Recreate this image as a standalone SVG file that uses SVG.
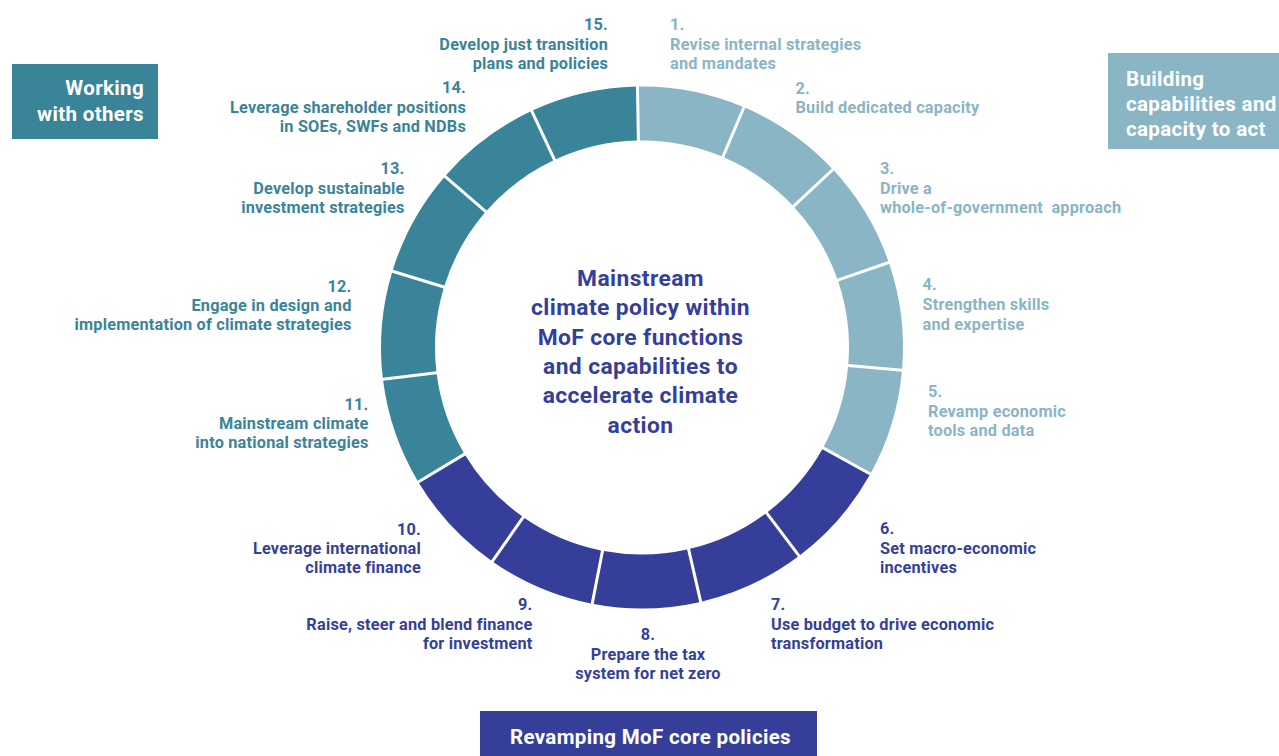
<svg xmlns="http://www.w3.org/2000/svg" width="1279" height="756" viewBox="0 0 1279 756">
<style>
.lt{fill:#8AB5C5}
.tl{fill:#3A8499}
.nv{fill:#353F9A}
text{font-family:Roboto,"Liberation Sans",sans-serif;font-weight:bold}
.lbl{font-size:16.3px;letter-spacing:0.2px}
.e{text-anchor:end}
.m{text-anchor:middle}
.box{font-size:20.5px;letter-spacing:0.35px;fill:#fff}
.ctr{font-size:22.8px;letter-spacing:0.4px;fill:#353F9A;text-anchor:middle}
</style>
<rect width="1279" height="756" fill="#fff"/>
<g id="legend-working"><rect class="tl" x="12" y="64" width="146" height="75"/><text class="box e" x="144" y="95">Working</text><text class="box e" x="144" y="120.5">with others</text></g>
<g id="legend-building"><rect class="lt" x="1108" y="53" width="171" height="96"/><text class="box" x="1126" y="86">Building</text><text class="box" x="1126" y="111">capabilities and</text><text class="box" x="1126" y="136">capacity to act</text></g>
<g id="legend-revamping"><rect class="nv" x="480" y="711" width="337" height="45"/><text class="box m" x="650.5" y="743.5">Revamping MoF core policies</text></g>
<g id="center"><text class="ctr" x="640.5" y="286">Mainstream</text><text class="ctr" x="640.5" y="315.3">climate policy within</text><text class="ctr" x="640.5" y="344.6">MoF core functions</text><text class="ctr" x="640.5" y="373.9">and capabilities to</text><text class="ctr" x="640.5" y="403.2">accelerate climate</text><text class="ctr" x="640.5" y="432.5">action</text></g>
<g id="connectors"></g>
<g id="n1"><path class="lt" d="M638.95,86.51 A261,261 0 0 1 742.60,106.66 L721.50,156.37 A207,207 0 0 0 639.89,140.51 Z"/><text class="lbl lt"><tspan x="670" y="30">1.</tspan><tspan x="670" y="49.5">Revise internal strategies</tspan><tspan x="670" y="69">and mandates</tspan></text></g>
<g id="n2"><path class="lt" d="M745.36,107.83 A261,261 0 0 1 831.86,168.40 L792.37,205.23 A207,207 0 0 0 724.26,157.54 Z"/><text class="lbl lt"><tspan x="795.5" y="94">2.</tspan><tspan x="795.5" y="113">Build dedicated capacity</tspan></text></g>
<g id="n3"><path class="lt" d="M833.91,170.60 A261,261 0 0 1 888.29,261.11 L837.23,278.69 A207,207 0 0 0 794.41,207.42 Z"/><text class="lbl lt" xml:space="preserve"><tspan x="880" y="174">3.</tspan><tspan x="880" y="193.5">Drive a</tspan><tspan x="880" y="213">whole-of-government  approach</tspan></text></g>
<g id="n4"><path class="lt" d="M889.27,263.95 A261,261 0 0 1 902.14,368.75 L848.34,364.05 A207,207 0 0 0 838.21,281.53 Z"/><text class="lbl lt"><tspan x="922.5" y="290">4.</tspan><tspan x="922.5" y="310">Strengthen skills</tspan><tspan x="922.5" y="329.5">and expertise</tspan></text></g>
<g id="n5"><path class="lt" d="M901.88,371.74 A261,261 0 0 1 871.00,472.72 L823.77,446.54 A207,207 0 0 0 848.08,367.04 Z"/><text class="lbl lt"><tspan x="928" y="397">5.</tspan><tspan x="928" y="416.5">Revamp economic</tspan><tspan x="928" y="436">tools and data</tspan></text></g>
<g id="n6"><path class="nv" d="M869.55,475.35 A261,261 0 0 1 800.27,555.04 L767.77,511.92 A207,207 0 0 0 822.32,449.17 Z"/><text class="lbl nv"><tspan x="880" y="534">6.</tspan><tspan x="880" y="553.5">Set macro-economic</tspan><tspan x="880" y="573">incentives</tspan></text></g>
<g id="n7"><path class="nv" d="M797.88,556.85 A261,261 0 0 1 702.17,601.47 L690.03,548.86 A207,207 0 0 0 765.38,513.72 Z"/><text class="lbl nv"><tspan x="771" y="610">7.</tspan><tspan x="771" y="629.5">Use budget to drive economic</tspan><tspan x="771" y="649">transformation</tspan></text></g>
<g id="n8"><path class="nv" d="M699.25,602.15 A261,261 0 0 1 593.67,603.99 L603.98,550.98 A207,207 0 0 0 687.10,549.53 Z"/><text class="lbl nv m"><tspan x="648" y="640">8.</tspan><tspan x="648" y="660">Prepare the tax</tspan><tspan x="648" y="679">system for net zero</tspan></text></g>
<g id="n9"><path class="nv" d="M590.73,603.42 A261,261 0 0 1 493.53,562.16 L524.50,517.92 A207,207 0 0 0 601.03,550.41 Z"/><text class="lbl nv e"><tspan x="532.5" y="610">9.</tspan><tspan x="532.5" y="629.5">Raise, steer and blend finance</tspan><tspan x="532.5" y="649">for investment</tspan></text></g>
<g id="n10"><path class="nv" d="M491.07,560.44 A261,261 0 0 1 419.05,483.21 L465.34,455.40 A207,207 0 0 0 522.04,516.20 Z"/><text class="lbl nv e"><tspan x="421" y="535">10.</tspan><tspan x="421" y="554">Leverage international</tspan><tspan x="421" y="573">climate finance</tspan></text></g>
<g id="n11"><path class="tl" d="M417.51,480.64 A261,261 0 0 1 383.13,380.80 L436.73,374.22 A207,207 0 0 0 463.79,452.83 Z"/><text class="lbl tl e"><tspan x="368.5" y="410">11.</tspan><tspan x="368.5" y="429">Mainstream climate</tspan><tspan x="368.5" y="448">into national strategies</tspan></text></g>
<g id="n12"><path class="tl" d="M382.76,377.82 A261,261 0 0 1 391.97,272.63 L443.61,288.41 A207,207 0 0 0 436.36,371.24 Z"/><text class="lbl tl e"><tspan x="351.5" y="291.5">12.</tspan><tspan x="351.5" y="310.5">Engage in design and</tspan><tspan x="351.5" y="330">implementation of climate strategies</tspan></text></g>
<g id="n13"><path class="tl" d="M392.84,269.76 A261,261 0 0 1 444.04,177.40 L484.79,212.83 A207,207 0 0 0 444.48,285.55 Z"/><text class="lbl tl e"><tspan x="404.5" y="174">13.</tspan><tspan x="404.5" y="193.5">Develop sustainable</tspan><tspan x="404.5" y="213">investment strategies</tspan></text></g>
<g id="n14"><path class="tl" d="M446.01,175.14 A261,261 0 0 1 530.34,111.59 L553.16,160.53 A207,207 0 0 0 486.76,210.56 Z"/><text class="lbl tl e"><tspan x="466" y="93">14.</tspan><tspan x="466" y="112.5">Leverage shareholder positions</tspan><tspan x="466" y="132">in SOEs, SWFs and NDBs</tspan></text></g>
<g id="n15"><path class="tl" d="M533.06,110.32 A261,261 0 0 1 635.95,86.57 L636.89,140.56 A207,207 0 0 0 555.88,159.26 Z"/><text class="lbl tl e"><tspan x="608" y="30">15.</tspan><tspan x="608" y="49.5">Develop just transition</tspan><tspan x="608" y="69">plans and policies</tspan></text></g>
</svg>
